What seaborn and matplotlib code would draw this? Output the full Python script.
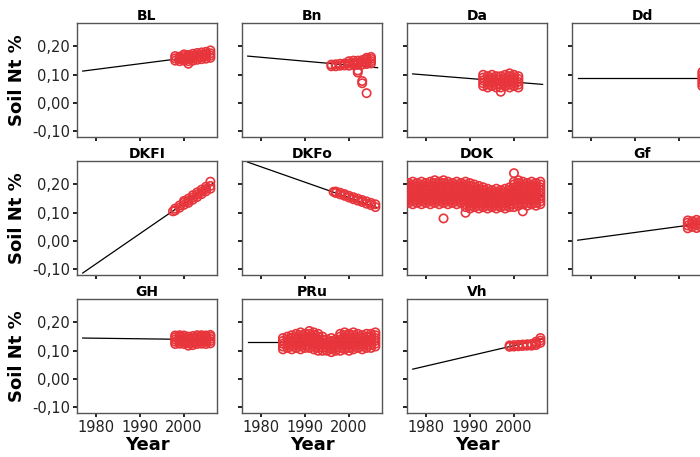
import matplotlib
matplotlib.use("Agg")
import matplotlib.pyplot as plt
import pandas as pd
import seaborn as sns
from matplotlib.ticker import FuncFormatter

# ---------------- data ----------------
sites = ["BL", "Bn", "Da", "Dd", "DKFI", "DKFo", "DOK", "Gf", "GH", "PRu", "Vh"]

# fitted trend lines: value at start year and end year
line_years = [1977.0, 2006.5]
line_start = [0.113, 0.166, 0.103, 0.087, -0.113, 0.279, 0.162, 0.003, 0.145, 0.130, 0.035]
line_end = [0.172, 0.125, 0.066, 0.087, 0.203, 0.118, 0.160, 0.065, 0.139, 0.130, 0.142]

# observations: years and values measured in each year
bl_years = [1998, 1999, 2000, 2001, 2002, 2003, 2004, 2005, 2006]
bl_nt = [[.150, .158, .166], [.148, .156, .164], [.150, .158, .166, .172],
         [.139, .148, .156, .164, .170], [.150, .158, .166, .174], [.153, .161, .169, .177],
         [.155, .163, .171, .179], [.157, .165, .173, .181], [.160, .168, .176, .186]]

bn_years = [1996, 1997, 1998, 1999, 2000, 2001, 2002, 2003, 2004, 2005]
bn_nt = [[.130, .136], [.130, .137], [.132, .139], [.133, .140], [.132, .140, .148],
         [.135, .142, .150], [.108, .115, .135, .142, .150], [.070, .078, .136, .144, .152],
         [.035, .138, .146, .154, .160], [.140, .148, .156, .163]]

da_years = [1993, 1994, 1995, 1996, 1997, 1998, 1999, 2000, 2001]
da_nt = [[.060, .070, .080, .090, .100], [.055, .065, .075, .085, .095],
         [.060, .070, .080, .090, .100], [.055, .065, .075, .085, .095],
         [.040, .055, .065, .075, .085, .095], [.060, .070, .080, .090, .100],
         [.055, .065, .075, .085, .095, .105], [.060, .070, .080, .090, .100],
         [.055, .065, .075, .085, .095]]

dd_years = [2005.3, 2006.0]
dd_nt = [[.060, .070, .080, .090, .100, .110], [.065, .075, .085, .095, .105]]

dkfi_years = [1997.5, 1998, 1999, 2000, 2001, 2002, 2003, 2004, 2005, 2006]
dkfi_nt = [[.105], [.108, .115], [.118, .126], [.128, .136, .142], [.135, .142, .150],
           [.146, .154, .162], [.156, .164, .172], [.166, .174, .182], [.176, .184, .192],
           [.185, .195, .210]]

dkfo_years = [1996.5, 1997, 1998, 1999, 2000, 2001, 2002, 2003, 2004, 2005, 2006]
dkfo_nt = [[.174], [.170, .175], [.165, .171], [.160, .166], [.154, .160], [.148, .155],
           [.143, .150], [.138, .145], [.132, .140], [.127, .135], [.120, .130]]

dok_years = list(range(1976, 2007))
dok_nt = [
    [.135, .145, .155, .165, .175, .185, .195, .205],
    [.13, .14, .15, .16, .17, .18, .19, .20, .21],
    [.135, .145, .155, .165, .175, .185, .195, .205],
    [.13, .14, .15, .16, .17, .18, .19, .20, .21],
    [.135, .145, .155, .165, .175, .185, .195, .205],
    [.13, .14, .15, .16, .17, .18, .19, .20, .21],
    [.135, .145, .155, .165, .175, .185, .195, .205, .215],
    [.13, .14, .15, .16, .17, .18, .19, .20, .21],
    [.08, .135, .145, .155, .165, .175, .185, .195, .205, .215],
    [.13, .14, .15, .16, .17, .18, .19, .20, .21],
    [.135, .145, .155, .165, .175, .185, .195, .205],
    [.13, .14, .15, .16, .17, .18, .19, .20, .21],
    [.135, .145, .155, .165, .175, .185, .195, .205],
    [.10, .12, .13, .14, .15, .16, .17, .18, .19, .20, .21],
    [.115, .125, .135, .145, .155, .165, .175, .185, .195, .205],
    [.12, .13, .14, .15, .16, .17, .18, .19, .20],
    [.115, .125, .135, .145, .155, .165, .175, .185, .195],
    [.12, .13, .14, .15, .16, .17, .18, .19],
    [.115, .125, .135, .145, .155, .165, .175, .185],
    [.12, .13, .14, .15, .16, .17, .18],
    [.115, .125, .135, .145, .155, .165, .175, .185],
    [.12, .13, .14, .15, .16, .17, .18],
    [.115, .125, .135, .145, .155, .165, .175, .185],
    [.12, .13, .14, .15, .16, .17, .18, .19],
    [.12, .13, .14, .15, .16, .17, .18, .19, .20, .21, .24],
    [.125, .135, .145, .155, .165, .175, .185, .195, .205, .215],
    [.105, .13, .14, .15, .16, .17, .18, .19, .20, .21],
    [.125, .135, .145, .155, .165, .175, .185, .195, .205],
    [.13, .14, .15, .16, .17, .18, .19, .20, .21],
    [.125, .135, .145, .155, .165, .175, .185, .195, .205],
    [.13, .14, .15, .16, .17, .18, .19, .20, .21],
]

gf_years = [2002, 2003, 2004, 2005, 2006]
gf_nt = [[.045, .055, .065, .073], [.050, .060, .070], [.046, .056, .066, .075],
         [.050, .060, .070], [.048, .058, .068]]

gh_years = [1998, 1999, 2000, 2001, 2002, 2003, 2004, 2005, 2006]
gh_nt = [[.124, .132, .140, .148, .154], [.125, .133, .141, .149, .155],
         [.124, .132, .140, .148, .154], [.118, .126, .134, .142, .150],
         [.120, .128, .136, .144, .152], [.124, .132, .140, .148, .155],
         [.125, .133, .141, .149, .155], [.124, .132, .140, .148, .154],
         [.126, .134, .142, .150, .156]]

pru_years = list(range(1985, 2007))
pru_nt = [
    [.105, .115, .125, .135, .145], [.11, .12, .13, .14, .15],
    [.105, .115, .125, .135, .145, .155], [.11, .12, .13, .14, .15, .16],
    [.105, .115, .125, .135, .145, .155, .165], [.11, .12, .13, .14, .15, .16],
    [.11, .12, .13, .14, .15, .16, .17], [.105, .115, .125, .135, .145, .155, .165],
    [.10, .11, .12, .13, .14, .15, .16], [.10, .11, .12, .13, .14, .15],
    [.10, .11, .12, .13, .14], [.095, .105, .115, .125, .135, .145],
    [.10, .11, .12, .13, .14], [.10, .11, .12, .13, .14, .15, .16],
    [.105, .115, .125, .135, .145, .155, .165], [.10, .11, .12, .13, .14, .15, .16],
    [.105, .115, .125, .135, .145, .155, .165], [.11, .12, .13, .14, .15, .16],
    [.105, .115, .125, .135, .145, .155], [.11, .12, .13, .14, .15, .16],
    [.11, .12, .13, .14, .15, .16], [.115, .125, .135, .145, .155, .165],
]

vh_years = [1999, 2000, 2001, 2002, 2003, 2004, 2005, 2006]
vh_nt = [[.114, .119], [.115, .120], [.116, .121], [.117, .122], [.118, .123],
         [.118, .124], [.120, .126, .132], [.128, .136, .145]]

y_ticks = [-0.10, 0.00, 0.10, 0.20]
x_ticks = [1980, 1990, 2000]

# ---------------- tables ----------------
obs_years = [bl_years, bn_years, da_years, dd_years, dkfi_years, dkfo_years,
             dok_years, gf_years, gh_years, pru_years, vh_years]
obs_vals = [bl_nt, bn_nt, da_nt, dd_nt, dkfi_nt, dkfo_nt,
            dok_nt, gf_nt, gh_nt, pru_nt, vh_nt]

rows = []
for site, yrs, vals in zip(sites, obs_years, obs_vals):
    for yr, vs in zip(yrs, vals):
        for v in vs:
            rows.append((site, yr, v))
df = pd.DataFrame(rows, columns=["site", "year", "nt"])

lrows = []
for site, a, b in zip(sites, line_start, line_end):
    lrows.append((site, line_years[0], a))
    lrows.append((site, line_years[1], b))
line_df = pd.DataFrame(lrows, columns=["site", "year", "nt"])

# ---------------- plot ----------------
red = "#e8353c"
g = sns.FacetGrid(df, col="site", col_wrap=4, col_order=sites, sharex=True,
                  sharey=True, despine=False, height=1.5, aspect=1.2)

for site, ax in g.axes_dict.items():
    sns.lineplot(data=line_df[line_df["site"] == site], x="year", y="nt", ax=ax,
                 color="black", linewidth=0.9, zorder=2)

g.map_dataframe(sns.scatterplot, x="year", y="nt", marker="o", s=36,
                color=red, facecolors="none", edgecolor=red, linewidth=1.2, zorder=3)

g.set_titles("{col_name}", fontweight="bold", fontsize=8.5, pad=2)
g.figure.set_size_inches(7.0, 4.57)

col_left = [77, 242, 407, 572]
row_top = [23, 161, 299]
W, H = 140, 114
fw, fh = 700.0, 457.0

fmt = FuncFormatter(lambda v, p: f"{v:.2f}".replace(".", ",").replace("-0,00", "0,00"))

for i, site in enumerate(sites):
    ax = g.axes_dict[site]
    r, c = divmod(i, 4)
    ax.set_position([col_left[c] / fw, 1 - (row_top[r] + H) / fh, W / fw, H / fh])
    ax.set_xlim(1975.7, 2007.5)
    ax.set_ylim(-0.12, 0.283)
    ax.set_xticks(x_ticks)
    ax.set_yticks(y_ticks)
    ax.yaxis.set_major_formatter(fmt)
    for sp in ax.spines.values():
        sp.set_color("#555555")
        sp.set_linewidth(1.0)
    ax.tick_params(direction="out", length=3, width=1.2, color="black",
                   labelsize=10.5, labelcolor="#222222", pad=2)
    ax.tick_params(axis="y", labelleft=(c == 0))
    ax.tick_params(axis="x", labelbottom=(r == 2))
    ax.set_xlabel("Year" if r == 2 else "", fontsize=13, fontweight="bold", labelpad=1)
    ax.set_ylabel("Soil Nt %" if c == 0 else "", fontsize=13, fontweight="bold", labelpad=4)
    leg = ax.get_legend()
    if leg is not None:
        leg.remove()

g.figure.savefig("out.png", dpi=100)
